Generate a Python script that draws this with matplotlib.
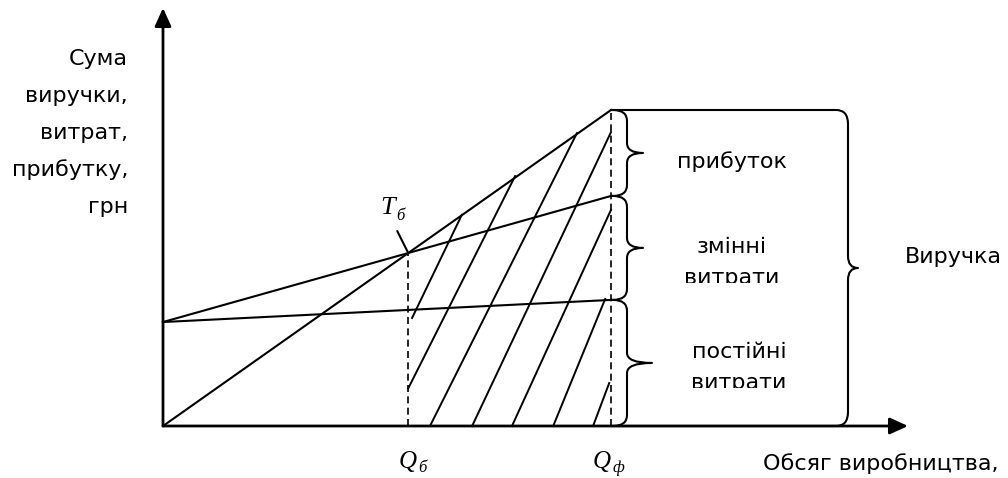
import numpy as np
import matplotlib.pyplot as plt
from matplotlib.path import Path
from matplotlib.patches import PathPatch
from matplotlib.transforms import Bbox, TransformedBbox

# Values (Q_f = 10 units, revenue at Q_f = 10 units)
q_ends = [0.0, 10.0]
revenue = [0.0, 10.0]
total_cost = [3.29, 7.28]
fixed_cost = [3.29, 3.99]

# hatch strokes of the profit zone (start at bottom, end at top)
hatch_q_bot = [5.56, 5.47, 5.96, 6.90, 7.79, 8.71, 9.60]
hatch_y_bot = [3.42, 1.18, 0.00, 0.00, 0.00, 0.00, 0.00]
hatch_q_top = [6.67, 7.86, 9.24, 10.0, 10.0, 9.87, 9.96]
hatch_y_top = [6.68, 7.91, 9.27, 9.30, 6.84, 4.02, 1.36]

y_label_lines = ['Сума', 'виручки,', 'витрат,', 'прибутку,', 'грн']
x_label = 'Обсяг виробництва,'
part_labels = [['прибуток'], ['змінні', 'витрати'], ['постійні', 'витрати']]
total_label = 'Виручка'

W, H = 1008, 478
PX, PY = 44.8, 31.6          # pixels per data unit
X0, Y0 = 163, 426            # origin in pixels
SANS = 'DejaVu Sans'
SERIF = 'Liberation Serif'
FS = 16


def dx(p):
    return p / PX


def dy(p):
    return p / PY


def brace(ax, x_open, y_top, y_bot, x_body, x_tip, rx, ry, cy, lw=1.5):
    ym = (y_top + y_bot) / 2
    verts = [(x_open, y_top), (x_body - rx, y_top),
             (x_body, y_top), (x_body, y_top - ry),
             (x_body, ym + cy),
             (x_body, ym), (x_tip, ym),
             (x_body, ym), (x_body, ym - cy),
             (x_body, y_bot + ry),
             (x_body, y_bot), (x_body - rx, y_bot),
             (x_open, y_bot)]
    codes = [Path.MOVETO, Path.LINETO,
             Path.CURVE3, Path.CURVE3,
             Path.LINETO,
             Path.CURVE3, Path.CURVE3,
             Path.CURVE3, Path.CURVE3,
             Path.LINETO,
             Path.CURVE3, Path.CURVE3,
             Path.LINETO]
    ax.add_patch(PathPatch(Path(verts, codes), fill=False, lw=lw,
                           edgecolor='black', capstyle='round',
                           joinstyle='round'))


fig = plt.figure(figsize=(W / 100, H / 100), dpi=100)
ax = fig.add_axes([0, 0, 1, 1])
ax.set_xlim(-dx(X0), dx(W - X0))
ax.set_ylim(-dy(H - Y0), dy(Y0))
ax.axis('off')

# axes with arrow heads
arrow = dict(arrowstyle='-|>,head_length=0.55,head_width=0.25', lw=2,
             color='black', mutation_scale=20, shrinkA=0, shrinkB=0)
ax.annotate('', xy=(0, dy(Y0 - 8)), xytext=(0, 0), arrowprops=arrow)
ax.annotate('', xy=(dx(908 - X0), 0), xytext=(0, 0), arrowprops=arrow)

# revenue, total cost and fixed cost lines
ax.plot(q_ends, revenue, color='black', lw=1.5)
ax.plot(q_ends, total_cost, color='black', lw=1.5)
ax.plot(q_ends, fixed_cost, color='black', lw=1.5)

# break-even point
k_r = (revenue[1] - revenue[0]) / (q_ends[1] - q_ends[0])
k_c = (total_cost[1] - total_cost[0]) / (q_ends[1] - q_ends[0])
q_be = (total_cost[0] - revenue[0]) / (k_r - k_c)
y_be = revenue[0] + k_r * q_be
q_f = q_ends[1]

ax.plot([q_be, q_be], [0, y_be], color='black', lw=1.2, dashes=(4.2, 2.6))
ax.plot([q_f, q_f], [0, revenue[1]], color='black', lw=1.2, dashes=(4.2, 2.6))

for qb, yb, qt, yt in zip(hatch_q_bot, hatch_y_bot, hatch_q_top, hatch_y_top):
    ax.plot([qb, qt], [yb, yt], color='black', lw=1.4)

# braces on the right
levels = [revenue[1], total_cost[1], fixed_cost[1], 0.0]
tips = [32, 32, 41]
for i in range(3):
    brace(ax, q_f, levels[i], levels[i + 1], q_f + dx(16), q_f + dx(tips[i]),
          dx(14), dy(11), dy(10))
brace(ax, q_f, levels[0], levels[3], q_f + dx(237), q_f + dx(247),
      dx(12), dy(14), dy(12))

# labels of the parts
ax.text(dx(732 - X0), dy(Y0 - 168), part_labels[0][0], ha='center',
        va='baseline', fontsize=FS, family=SANS)
part_x = [dx(732 - X0), dx(739 - X0)]
part_base = [(253, 284, 283), (358, 389, 388)]
for lines, xc, (b1, b2, clip) in zip(part_labels[1:], part_x, part_base):
    ax.text(xc, dy(Y0 - b1), lines[0], ha='center', va='baseline',
            fontsize=FS, family=SANS)
    t = ax.text(xc, dy(Y0 - b2), lines[1], ha='center', va='baseline',
                fontsize=FS, family=SANS)
    t.set_clip_box(TransformedBbox(Bbox([[xc - 3, dy(Y0 - clip)],
                                         [xc + 3, dy(Y0 - b2 + 40)]]),
                                   ax.transData))
    t.set_clip_on(True)

ax.text(dx(905 - X0), dy(Y0 - 263), total_label, ha='left', va='baseline',
        fontsize=FS, family=SANS)

# break-even label
ax.annotate('', xy=(q_be, y_be), xytext=(-11, 22), textcoords='offset pixels',
            arrowprops=dict(arrowstyle='-', lw=1.5, color='black',
                            shrinkA=0, shrinkB=0))
ax.annotate('T', xy=(q_be, y_be), xytext=(-28, 39), textcoords='offset pixels',
            ha='left', va='baseline', fontsize=19, family=SERIF, style='italic')
ax.annotate('б', xy=(q_be, y_be), xytext=(-12, 33), textcoords='offset pixels',
            ha='left', va='baseline', fontsize=12, family=SERIF, style='italic')

# Q labels under the x axis
for q, sub, off in [(q_be, 'б', -10), (q_f, 'ф', -18)]:
    ax.annotate('Q', xy=(q, 0), xytext=(off, -42), textcoords='offset pixels',
                ha='left', va='baseline', fontsize=18, family=SERIF,
                style='italic')
    ax.annotate(sub, xy=(q, 0), xytext=(off + 20, -46),
                textcoords='offset pixels', ha='left', va='baseline',
                fontsize=12, family=SERIF, style='italic')

# axis titles
for i, line in enumerate(y_label_lines):
    fig.text(128 / W, 1 - (65 + 37 * i) / H, line, ha='right', va='baseline',
             fontsize=FS, family=SANS)
fig.text(763 / W, 1 - 470 / H, x_label, ha='left', va='baseline',
         fontsize=FS, family=SANS)

fig.savefig('out.png', dpi=100)
